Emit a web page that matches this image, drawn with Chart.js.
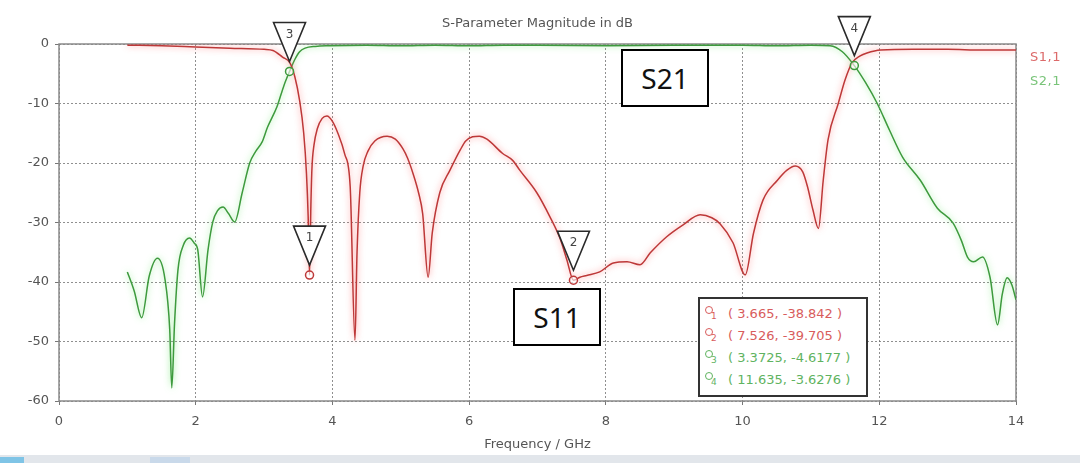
<!DOCTYPE html>
<html>
<head>
<meta charset="utf-8">
<title>S-Parameter Magnitude in dB</title>
<script src="https://cdn.jsdelivr.net/npm/chart.js@4.4.1/dist/chart.umd.min.js"></script>
<style>
  html, body { margin: 0; padding: 0; background: #fff; }
  #wrap { position: relative; width: 1080px; height: 463px; overflow: hidden; background: #fff; }
  #plot { position: absolute; left: 0; top: 0; }
  .trace-name { position: absolute; font: 13px "DejaVu Sans", sans-serif; letter-spacing: 0.5px; }
  .note { position: absolute; width: 84px; height: 54px; border: 2px solid #000; background: #fff;
          font: 28px "Noto Sans", sans-serif; color: #111; text-align: center; line-height: 54px; }
  #mbox { position: absolute; left: 698px; top: 297px; width: 166px; height: 96px;
          border: 2px solid #333; background: #fff; font: 13px "DejaVu Sans", sans-serif; }
  #mbox .row { position: absolute; left: 0; height: 20px; width: 166px; }
  #mbox .ico { position: absolute; left: 5px; top: 2px; width: 6px; height: 6px; border: 1.5px solid; border-radius: 50%; }
  #mbox .num { position: absolute; left: 11px; top: 7px; font-size: 9px; }
  #mbox .txt { position: absolute; left: 28px; top: 2px; white-space: pre; }
  #strip { position: absolute; left: 0; top: 455px; width: 1080px; height: 8px; background: #e2e6eb; }
  #strip span { position: absolute; top: 2px; height: 6px; }
</style>
</head>
<body>
<div id="wrap">
  <canvas id="plot" width="1080" height="463"></canvas>
  <div class="trace-name" style="left:1030px; top:49px; color:#dc6a6a;">S1,1</div>
  <div class="trace-name" style="left:1030px; top:73px; color:#79c479;">S2,1</div>
  <div class="note" style="left:621px; top:49px;">S21</div>
  <div class="note" style="left:513px; top:288px;">S11</div>
  <div id="mbox"></div>
  <div id="strip">
    <span style="left:0; width:24px; background:#7fc4e6;"></span>
    <span style="left:150px; width:40px; background:#c9d9ea;"></span>
  </div>
</div>
<script>
const FONT = '"DejaVu Sans", sans-serif';
const RED = '#bd3838';
const GREEN = '#3d9a3d';

const xTicks = [0, 2, 4, 6, 8, 10, 12, 14];
const yTicks = [0, -10, -20, -30, -40, -50, -60];

// S1,1 (reflection)
const s11Freq = [1.00, 1.50, 2.00, 2.50, 3.00, 3.13, 3.27, 3.38, 3.45, 3.52, 3.58, 3.62, 3.645, 3.665, 3.685,
  3.70, 3.73, 3.78, 3.85, 3.92, 4.00, 4.08, 4.18, 4.26, 4.33, 4.36, 4.40, 4.45, 4.52, 4.62, 4.80, 4.92,
  5.03, 5.10, 5.18, 5.26, 5.32, 5.40, 5.46, 5.57, 5.72, 5.87, 5.95, 6.05, 6.15, 6.26, 6.49, 6.64, 6.74, 6.99,
  7.18, 7.33, 7.43, 7.526, 7.62, 7.72, 7.91, 8.11, 8.31, 8.50, 8.65, 8.89, 9.13, 9.38, 9.55, 9.67,
  9.86, 10.04, 10.16, 10.30, 10.51, 10.65, 10.77, 10.88, 10.95, 11.03, 11.11, 11.18, 11.25, 11.40,
  11.50, 11.60, 11.72, 11.82, 12.02, 12.50, 13.00, 13.50, 14.00];
const s11Db = [-0.2, -0.3, -0.5, -0.7, -0.9, -1.1, -2.2, -3.2, -5.5, -9.5, -15, -21.7, -29, -38.842, -27,
  -21, -17, -14.2, -12.5, -12.1, -13, -15, -18.5, -24, -49.8, -35, -25, -20.5, -18, -16.3, -15.5, -16.0,
  -17.6, -19.2, -21.8, -25, -28.5, -39.2, -31.8, -25, -21.2, -17.8, -16.3, -15.6, -15.5, -16.0, -18.4, -19.6, -21.2, -25,
  -29, -32.7, -36.3, -39.705, -39.2, -38.9, -38.3, -36.8, -36.6, -37.1, -35.1, -32.4, -30.4, -28.7, -29.2, -30.2,
  -33.4, -38.8, -31.8, -26.2, -22.9, -21.2, -20.5, -21.5, -24, -27.9, -31, -22.9, -16.1, -10,
  -6, -3.2, -2.0, -1.5, -1.0, -0.9, -0.9, -1.0, -1.0];

// S2,1 (transmission)
const s21Freq = [1.00, 1.10, 1.21, 1.32, 1.44, 1.55, 1.62, 1.65, 1.69, 1.74, 1.82, 1.91, 1.98, 2.03, 2.10,
  2.18, 2.25, 2.32, 2.40, 2.48, 2.57, 2.68, 2.79, 2.88, 2.97, 3.05, 3.19, 3.29, 3.3725, 3.45, 3.52,
  3.60, 3.75, 3.96, 4.50, 5.00, 5.50, 6.00, 6.50, 7.00, 8.00, 9.00, 10.00, 10.50, 11.00, 11.28, 11.46, 11.635,
  11.80, 11.97, 12.15, 12.34, 12.60, 12.85, 13.08, 13.20, 13.29, 13.38, 13.51, 13.62, 13.73, 13.80,
  13.87, 13.94, 14.00];
const s21Db = [-38.3, -41.5, -46, -39, -36, -39.5, -48, -57.8, -47, -38, -33.8, -32.6, -33.5, -34.6, -42.5,
  -34.6, -29.9, -28, -27.4, -28.5, -29.9, -25, -20, -18, -16.5, -14, -10.5, -7, -4.6177, -2.6, -1.3,
  -0.7, -0.4, -0.3, -0.2, -0.3, -0.2, -0.3, -0.2, -0.2, -0.3, -0.2, -0.2, -0.3, -0.2, -0.3, -1.3, -3.6276,
  -6.5, -10, -14.5, -19, -22.9, -27.6, -30.1, -33, -35.8, -36.6, -35.8, -39.2, -47.2, -42,
  -39.3, -40.5, -43];

// curve markers
const markerIds = [1, 2, 3, 4];
const markerTrace = [0, 0, 1, 1];
const markerFreq = [3.665, 7.526, 3.3725, 11.635];
const markerDb = [-38.842, -39.705, -4.6177, -3.6276];

const traceColor = [RED, GREEN];
const markerTextColor = ['#d85c5c', '#5fb35f'];

const pts = (xs, ys) => xs.map((x, i) => ({x, y: ys[i]}));

// soft glow under each trace
const glow = {
  id: 'glow',
  beforeDatasetDraw(chart, args) {
    const ctx = chart.ctx;
    ctx.save();
    ctx.shadowColor = args.index === 0 ? 'rgba(255,95,95,0.75)' : 'rgba(110,230,110,0.75)';
    ctx.shadowBlur = 6;
  },
  afterDatasetDraw(chart) {
    chart.ctx.restore();
  }
};

// solid frame round the plot area
const frame = {
  id: 'frame',
  beforeDatasetsDraw(chart) {
    const {ctx, chartArea: a} = chart;
    ctx.save();
    ctx.strokeStyle = '#8a8a8a';
    ctx.lineWidth = 1.5;
    ctx.strokeRect(a.left, a.top, a.right - a.left, a.bottom - a.top);
    ctx.restore();
  }
};

// triangle flags + circles at the marker points
const flags = {
  id: 'flags',
  afterDatasetsDraw(chart) {
    const ctx = chart.ctx;
    const xs = chart.scales.x, ys = chart.scales.y;
    ctx.save();
    markerIds.forEach((id, i) => {
      const px = xs.getPixelForValue(markerFreq[i]);
      const py = ys.getPixelForValue(markerDb[i]);
      ctx.beginPath();
      ctx.arc(px, py, 4, 0, Math.PI * 2);
      ctx.fillStyle = 'rgba(255,255,255,0.6)';
      ctx.fill();
      ctx.lineWidth = 1.5;
      ctx.strokeStyle = traceColor[markerTrace[i]];
      ctx.stroke();

      const tip = py - 10, top = tip - 39;
      ctx.beginPath();
      ctx.moveTo(px - 16, top);
      ctx.lineTo(px + 16, top);
      ctx.lineTo(px, tip);
      ctx.closePath();
      ctx.fillStyle = '#fff';
      ctx.fill();
      ctx.strokeStyle = '#2a2a2a';
      ctx.lineWidth = 1.6;
      ctx.stroke();

      ctx.fillStyle = '#444';
      ctx.font = '12px ' + FONT;
      ctx.textAlign = 'center';
      ctx.textBaseline = 'middle';
      ctx.fillText(String(id), px, top + 12);
    });
    ctx.restore();
  }
};

new Chart(document.getElementById('plot'), {
  type: 'line',
  data: {
    datasets: [
      {label: 'S1,1', data: pts(s11Freq, s11Db), borderColor: RED},
      {label: 'S2,1', data: pts(s21Freq, s21Db), borderColor: GREEN}
    ]
  },
  options: {
    responsive: false,
    animation: false,
    devicePixelRatio: 1,
    layout: {padding: {top: 0, right: 64, bottom: 0, left: 0}},
    elements: {
      point: {radius: 0},
      line: {borderWidth: 1.5, cubicInterpolationMode: 'monotone', fill: false}
    },
    plugins: {
      legend: {display: false},
      tooltip: {enabled: false},
      title: {
        display: true,
        fullSize: false,
        text: 'S-Parameter Magnitude in dB',
        color: '#555',
        font: {family: FONT, size: 13, weight: 'normal'},
        padding: {top: 15.5, bottom: 12.9}
      }
    },
    scales: {
      x: {
        type: 'linear',
        min: 0, max: 14,
        afterBuildTicks: s => { s.ticks = xTicks.map(v => ({value: v})); },
        afterFit: s => { s.height = 62; },
        grid: {color: 'rgba(105,105,105,0.75)', tickColor: '#777', tickLength: 4},
        border: {display: false, dash: [2, 2]},
        ticks: {color: '#555', padding: 9, font: {family: FONT, size: 13}, maxRotation: 0},
        title: {
          display: true,
          text: 'Frequency / GHz',
          color: '#555',
          font: {family: FONT, size: 13},
          padding: {top: 0, bottom: 10.2}
        }
      },
      y: {
        type: 'linear',
        min: -60, max: 0,
        afterBuildTicks: s => { s.ticks = yTicks.map(v => ({value: v})); },
        afterFit: s => { s.width = 59; },
        grid: {color: 'rgba(105,105,105,0.75)', tickColor: '#777', tickLength: 4},
        border: {display: false, dash: [2, 2]},
        ticks: {color: '#555', padding: 6, font: {family: FONT, size: 13}}
      }
    }
  },
  plugins: [glow, frame, flags]
});

// marker read-out box
const rowTop = [5, 27, 49, 71];
const box = document.getElementById('mbox');
markerIds.forEach((id, i) => {
  const row = document.createElement('div');
  row.className = 'row';
  row.style.top = rowTop[i] + 'px';
  const c = markerTextColor[markerTrace[i]];
  row.innerHTML =
    '<span class="ico" style="border-color:' + c + '"></span>' +
    '<span class="num" style="color:' + c + '">' + id + '</span>' +
    '<span class="txt" style="color:' + c + '">( ' + markerFreq[i] + ', ' + markerDb[i] + ' )</span>';
  box.appendChild(row);
});
</script>
</body>
</html>
